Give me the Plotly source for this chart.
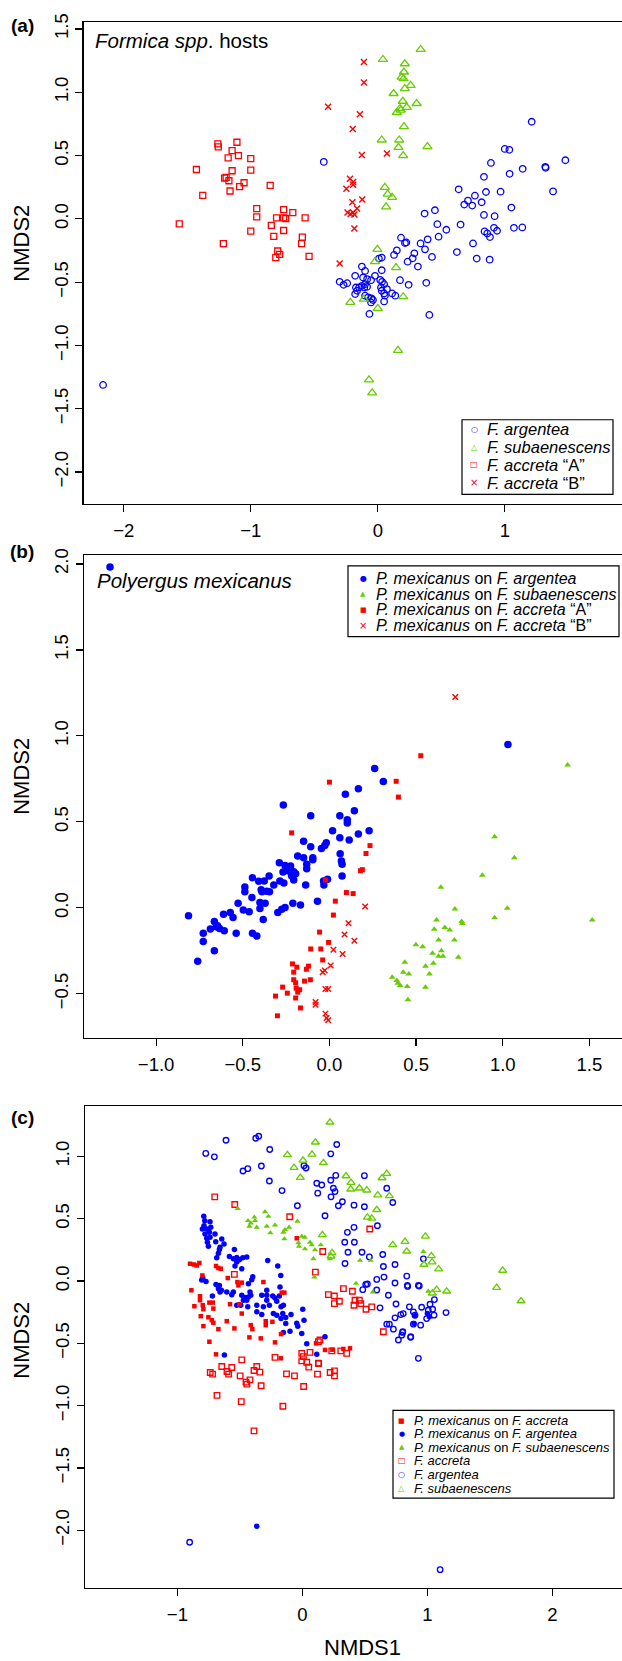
import plotly.graph_objects as go

W, H = 622, 1661
FONT = "Liberation Sans, Arial, Helvetica, sans-serif"
GLYPH_FONT = "DejaVu Sans"
BLUE, RED, GREEN = "#0000FF", "#FF0000", "#66CD00"

# ---------------- Panel (a): Formica spp. hosts ----------------
A_ARGENTEA = [
    (1.212, 0.767), (1.0, 0.552), (1.036, 0.545), (0.891, 0.442), (0.836, 0.332), (1.038, 0.356),
    (1.141, 0.395), (1.319, 0.411), (1.322, 0.403), (1.477, 0.463), (1.380, 0.217), (0.637, 0.233),
    (0.765, 0.183), (0.852, 0.212), (0.967, 0.215), (0.681, 0.113), (0.710, 0.144), (0.744, 0.105),
    (0.818, 0.131), (1.052, 0.089), (0.836, 0.031), (0.920, 0.021), (0.369, 0.042), (0.450, 0.068),
    (0.469, -0.042), (0.540, -0.086), (0.652, -0.045), (0.479, -0.141), (0.393, -0.162), (0.337, -0.194),
    (0.372, -0.241), (0.427, -0.301), (0.288, -0.272), (0.275, -0.312), (0.235, -0.338), (0.316, -0.377),
    (0.623, -0.262), (0.750, -0.194), (0.779, -0.314), (0.881, -0.322), (0.841, -0.099), (0.862, -0.115),
    (0.883, -0.144), (0.915, -0.071), (0.939, -0.094), (1.072, -0.071), (1.138, -0.068), (0.183, -0.149),
    (0.214, -0.191), (0.225, -0.186), (0.243, -0.521), (0.382, -0.505), (0.406, -0.759), (0.175, -0.484),
    (-0.425, 0.450), (0.150, -0.249), (0.128, -0.285), (0.031, -0.306), (0.009, -0.314), (0.031, -0.406),
    (-0.125, -0.377), (-0.100, -0.411), (-0.022, -0.450), (0.019, -0.482), (-0.053, -0.484), (-0.116, -0.463),
    (-0.084, -0.476), (-0.178, -0.450), (-0.300, -0.497), (-0.269, -0.521), (-0.241, -0.508), (-0.172, -0.542),
    (-0.147, -0.542), (-0.125, -0.529), (-0.100, -0.516), (-0.106, -0.542), (-0.084, -0.537), (-0.163, -0.568),
    (-0.178, -0.594), (-0.100, -0.607), (-0.075, -0.620), (-0.050, -0.628), (-0.038, -0.641), (-0.053, -0.660),
    (0.025, -0.542), (0.031, -0.568), (0.050, -0.589), (0.056, -0.607), (0.050, -0.516), (0.034, -0.497),
    (0.072, -0.555), (0.113, -0.589), (0.138, -0.607), (0.050, -0.652), (-0.066, -0.751), (-2.163, -1.312),
]
A_SUBAENESCENS = [
    (0.338, 1.338), (0.041, 1.259), (0.213, 1.225), (0.206, 1.160), (0.188, 1.120), (0.203, 1.107),
    (0.259, 1.055), (0.213, 1.029), (0.125, 0.990), (0.197, 0.929), (0.306, 0.911), (0.175, 0.872),
    (0.228, 0.880), (0.150, 0.840), (0.181, 0.859), (0.206, 0.728), (0.031, 0.623), (0.169, 0.623),
    (0.163, 0.565), (0.391, 0.571), (0.200, 0.500), (0.056, 0.249), (0.078, 0.196), (0.113, 0.170),
    (0.066, 0.095), (-0.003, -0.241), (-0.022, -0.338), (0.144, -0.385), (-0.216, -0.660), (-0.109, -0.634),
    (0.200, -0.615), (0.000, -0.707), (0.159, -1.039), (-0.069, -1.272), (-0.044, -1.374),
]
A_ACCRETA_A = [
    (-1.428, 0.390), (-1.259, 0.592), (-1.256, 0.568), (-1.109, 0.605), (-1.147, 0.539), (-1.097, 0.500),
    (-1.178, 0.482), (-1.000, 0.476), (-1.147, 0.380), (-1.000, 0.385), (-1.206, 0.322), (-1.194, 0.327),
    (-1.172, 0.301), (-1.053, 0.285), (-1.088, 0.254), (-1.163, 0.220), (-0.847, 0.264), (-1.378, 0.186),
    (-0.953, 0.081), (-0.953, 0.016), (-0.741, 0.073), (-0.669, 0.050), (-0.797, 0.008), (-0.741, 0.008),
    (-0.725, 0.003), (-0.572, 0.008), (-1.563, -0.039), (-1.000, -0.097), (-0.838, -0.052), (-0.741, -0.092),
    (-0.819, -0.139), (-0.594, -0.144), (-1.216, -0.196), (-0.600, -0.196), (-0.788, -0.254), (-0.772, -0.280),
    (-0.803, -0.306), (-0.541, -0.296),
]
A_ACCRETA_B = [
    (-0.109, 1.238), (-0.109, 1.076), (-0.391, 0.885), (-0.141, 0.827), (-0.197, 0.709), (-0.125, 0.505),
    (0.072, 0.516), (-0.219, 0.317), (-0.194, 0.291), (-0.194, 0.270), (-0.247, 0.238), (-0.200, 0.131),
    (-0.122, 0.152), (-0.163, 0.081), (-0.238, 0.050), (-0.213, 0.039), (-0.194, 0.050), (-0.184, 0.034),
    (-0.184, -0.076), (-0.300, -0.353),
]

# ---------------- Panel (b): Polyergus mexicanus ----------------
B_ON_ARGENTEA = [
    (-1.266, 1.982), (1.030, 0.950), (0.261, 0.810), (0.311, 0.735), (0.167, 0.692), (0.092, 0.661),
    (-0.266, 0.598), (0.144, 0.565), (-0.108, 0.536), (0.060, 0.536), (0.103, 0.513), (0.103, 0.494),
    (0.018, 0.449), (0.229, 0.449), (0.167, 0.430), (0.060, 0.407), (0.114, 0.395), (-0.149, 0.388),
    (-0.018, 0.378), (-0.027, 0.362), (-0.046, 0.345), (-0.108, 0.355), (0.062, 0.314), (-0.183, 0.301),
    (-0.149, 0.291), (-0.096, 0.291), (-0.096, 0.280), (0.069, 0.272), (0.073, 0.253), (-0.289, 0.262),
    (-0.256, 0.247), (-0.224, 0.243), (-0.131, 0.253), (-0.131, 0.227), (-0.268, 0.208), (-0.236, 0.214),
    (-0.206, 0.210), (-0.218, 0.185), (-0.195, 0.199), (-0.206, 0.162), (0.073, 0.185), (-0.011, 0.166),
    (-0.444, 0.175), (-0.408, 0.154), (-0.376, 0.156), (-0.348, 0.185), (-0.286, 0.156), (-0.263, 0.145),
    (-0.488, 0.121), (-0.394, 0.106), (-0.362, 0.096), (-0.321, 0.133), (-0.389, 0.094), (-0.346, 0.094),
    (-0.137, 0.133), (-0.032, 0.133), (-0.034, 0.156), (-0.488, 0.094), (-0.447, 0.060), (-0.069, 0.039),
    (-0.401, 0.031), (-0.371, 0.027), (-0.527, 0.027), (-0.211, 0.027), (-0.167, 0.017), (-0.497, -0.012),
    (-0.463, -0.023), (-0.401, -0.004), (-0.298, -0.027), (-0.275, -0.008), (-0.256, 0.002), (-0.611, -0.037),
    (-0.572, -0.027), (-0.556, -0.056), (-0.382, -0.067), (-0.813, -0.046), (-0.664, -0.079), (-0.646, -0.104),
    (-0.634, -0.120), (-0.607, -0.133), (-0.687, -0.123), (-0.728, -0.147), (-0.538, -0.147), (-0.444, -0.148),
    (-0.653, -0.110), (-0.728, -0.195), (-0.419, -0.164), (-0.664, -0.249), (-0.760, -0.310),
]
B_ON_SUBAENESCENS = [
    (1.374, 0.831), (0.953, 0.413), (1.067, 0.291), (0.882, 0.189), (0.643, 0.120), (0.724, -0.006),
    (1.026, -0.002), (0.953, -0.058), (1.516, -0.071), (0.618, -0.071), (0.763, -0.079), (0.767, -0.091),
    (0.605, -0.125), (0.666, -0.114), (0.694, -0.129), (0.630, -0.187), (0.721, -0.187), (0.499, -0.214),
    (0.538, -0.226), (0.595, -0.264), (0.646, -0.249), (0.630, -0.281), (0.655, -0.281), (0.744, -0.287),
    (0.435, -0.316), (0.600, -0.322), (0.554, -0.339), (0.426, -0.374), (0.458, -0.384), (0.577, -0.384),
    (0.362, -0.403), (0.389, -0.422), (0.396, -0.438), (0.408, -0.451), (0.449, -0.457), (0.554, -0.461),
    (0.453, -0.534),
]
B_ON_ACCRETA_A = [
    (0.527, 0.885), (0.000, 0.731), (0.385, 0.736), (0.398, 0.644), (-0.218, 0.436), (0.234, 0.362),
    (0.211, 0.316), (0.190, 0.222), (0.179, 0.216), (-0.023, 0.162), (0.098, 0.089), (0.137, 0.083),
    (0.034, 0.039), (0.023, -0.042), (-0.057, -0.141), (-0.005, -0.201), (-0.108, -0.239), (-0.050, -0.239),
    (-0.039, -0.303), (-0.213, -0.326), (-0.188, -0.345), (-0.206, -0.374), (-0.121, -0.339), (-0.133, -0.357),
    (-0.206, -0.418), (-0.195, -0.436), (-0.144, -0.426), (-0.110, -0.418), (-0.270, -0.461), (-0.192, -0.467),
    (-0.172, -0.476), (-0.183, -0.490), (-0.243, -0.496), (-0.311, -0.513), (-0.195, -0.524), (-0.167, -0.582),
    (-0.300, -0.628),
]
B_ON_ACCRETA_B = [
    (0.726, 1.226), (0.206, 0.008), (0.110, -0.090), (0.087, -0.155), (0.144, -0.191), (0.023, -0.243),
    (0.076, -0.268), (0.007, -0.335), (-0.039, -0.374), (-0.027, -0.364), (-0.023, -0.472), (-0.007, -0.472),
    (-0.080, -0.547), (-0.080, -0.563), (-0.023, -0.615), (-0.016, -0.640), (-0.007, -0.654),
]

# ---------------- Panel (c): combined ----------------
C_PM_ACCRETA = [
    (-0.899, 0.138), (-0.867, 0.133), (-0.845, 0.125), (-0.824, 0.144), (-0.800, 0.045), (-0.691, 0.120),
    (-0.672, 0.104), (-0.653, 0.098), (-0.597, 0.024), (-0.520, -0.008), (-0.485, -0.013), (-0.512, -0.035),
    (-0.312, -0.008), (-0.888, -0.074), (-0.819, -0.122), (-0.819, -0.154), (-0.864, -0.202), (-0.797, -0.194),
    (-0.744, -0.173), (-0.717, -0.173), (-0.792, -0.226), (-0.712, -0.221), (-0.579, -0.186), (-0.504, -0.186),
    (-0.485, -0.261), (-0.813, -0.282), (-0.752, -0.290), (-0.725, -0.314), (-0.712, -0.335), (-0.605, -0.322),
    (-0.792, -0.362), (-0.672, -0.386), (-0.544, -0.380), (-0.413, -0.354), (-0.400, -0.386), (-0.333, -0.460),
    (-0.424, -0.452), (-0.744, -0.487), (-0.293, -0.322), (-0.293, -0.354), (-0.240, -0.327), (-0.219, -0.492),
    (-0.171, -0.426), (-0.144, -0.093), (-0.165, -0.093), (-0.045, 0.343), (0.109, -0.500), (0.181, -0.553),
    (0.240, -0.551), (0.328, -0.545), (0.381, -0.540), (-0.691, -0.588), (-0.173, -0.620),
]
C_PM_ARGENTEA = [
    (-0.789, 0.521), (-0.781, 0.484), (-0.739, 0.476), (-0.787, 0.444), (-0.800, 0.418), (-0.765, 0.418),
    (-0.733, 0.431), (-0.779, 0.378), (-0.744, 0.391), (-0.699, 0.378), (-0.765, 0.343), (-0.739, 0.351),
    (-0.760, 0.311), (-0.752, 0.279), (-0.693, 0.316), (-0.645, 0.338), (-0.627, 0.298), (-0.659, 0.271),
    (-0.664, 0.253), (-0.672, 0.223), (-0.685, 0.186), (-0.584, 0.197), (-0.544, 0.253), (-0.552, 0.178),
    (-0.525, 0.189), (-0.504, 0.170), (-0.477, 0.186), (-0.445, 0.194), (-0.539, 0.120), (-0.525, 0.152),
    (-0.485, 0.098), (-0.277, 0.165), (-0.197, 0.120), (-0.173, 0.045), (-0.797, 0.024), (-0.771, -0.003),
    (-0.805, 0.008), (-0.691, -0.027), (-0.664, -0.035), (-0.648, -0.074), (-0.672, -0.061), (-0.659, -0.088),
    (-0.720, -0.120), (-0.565, -0.109), (-0.552, -0.088), (-0.525, -0.194), (-0.485, -0.114), (-0.459, -0.133),
    (-0.472, -0.154), (-0.445, -0.154), (-0.432, -0.128), (-0.419, -0.088), (-0.413, -0.114), (-0.437, -0.207),
    (-0.432, -0.021), (-0.405, 0.011), (-0.397, 0.035), (-0.493, -0.194), (-0.365, -0.194), (-0.325, -0.114),
    (-0.285, -0.074), (-0.285, -0.114), (-0.285, -0.154), (-0.365, -0.247), (-0.325, -0.269), (-0.312, -0.207),
    (-0.264, -0.194), (-0.237, -0.120), (-0.219, -0.136), (-0.205, -0.162), (-0.184, -0.120), (-0.179, -0.048),
    (-0.171, -0.207), (-0.232, -0.261), (-0.205, -0.274), (-0.152, -0.194), (-0.157, -0.261), (-0.171, -0.301),
    (-0.133, -0.293), (-0.133, -0.340), (-0.152, -0.412), (-0.091, -0.269), (-0.045, -0.338), (-0.037, -0.362),
    (-0.005, -0.420), (0.013, -0.314), (0.003, -0.226), (-0.099, -0.402), (0.035, -0.503), (0.115, -0.588),
    (0.181, -0.447), (-0.624, -0.593), (-0.605, -0.088), (-0.365, -1.968), (0.901, -0.279), (0.893, -0.340),
    (1.000, -0.261), (1.016, -0.287),
]
C_PM_SUBAENESCENS = [
    (-0.517, 0.582), (-0.299, 0.556), (-0.272, 0.519), (-0.384, 0.513), (-0.435, 0.484), (-0.413, 0.465),
    (-0.379, 0.484), (-0.424, 0.439), (-0.365, 0.431), (-0.285, 0.439), (-0.219, 0.449), (-0.256, 0.386),
    (-0.139, 0.412), (-0.152, 0.391), (-0.107, 0.431), (-0.040, 0.479), (-0.144, 0.338), (-0.005, 0.359),
    (0.019, 0.351), (-0.032, 0.306), (0.061, 0.311), (-0.027, 0.279), (0.021, 0.258), (0.075, 0.290),
    (0.101, 0.250), (0.147, 0.290), (0.088, 0.178), (0.221, 0.178), (0.096, 0.032), (0.461, 0.165),
    (0.547, 0.165), (0.429, -0.019), (0.563, -0.088), (0.968, 0.237), (1.007, -0.082),
]
C_F_ACCRETA = [
    (-0.701, 0.676), (-0.541, 0.614), (-0.101, 0.516), (0.539, 0.418), (0.163, 0.237), (0.104, 0.072),
    (-0.544, 0.053), (0.208, -0.109), (0.256, -0.120), (0.256, -0.181), (0.296, -0.162), (0.328, -0.061),
    (0.400, -0.082), (0.421, -0.154), (0.413, -0.194), (0.456, -0.154), (0.467, -0.181), (0.509, -0.226),
    (0.555, -0.207), (0.648, -0.407), (0.141, -0.473), (0.128, -0.487), (-0.005, -0.580), (0.061, -0.572),
    (0.008, -0.606), (-0.005, -0.641), (0.035, -0.652), (0.128, -0.660), (0.235, -0.561), (0.307, -0.561),
    (0.355, -0.580), (-0.485, -0.633), (-0.219, -0.612), (-0.365, -0.686), (-0.645, -0.686), (-0.565, -0.694),
    (-0.737, -0.734), (-0.718, -0.747), (-0.603, -0.726), (-0.590, -0.747), (-0.498, -0.761), (-0.451, -0.811),
    (-0.444, -0.827), (-0.419, -0.793), (-0.387, -0.718), (-0.340, -0.731), (-0.330, -0.840), (-0.683, -0.918),
    (-0.489, -0.968), (-0.387, -1.202), (-0.156, -1.005), (-0.127, -0.745), (-0.063, -0.761), (0.010, -0.846),
    (0.051, -0.691), (0.121, -0.747), (0.130, -0.662), (0.222, -0.734), (0.257, -0.721), (0.257, -0.761),
]
C_F_ARGENTEA = [
    (-0.773, 1.024), (-0.704, 0.997), (-0.611, 1.130), (-0.373, 1.146), (-0.349, 1.162), (-0.261, 1.056),
    (-0.475, 0.883), (-0.437, 0.902), (-0.328, 0.923), (-0.264, 0.803), (-0.163, 0.726), (-0.040, 0.604),
    (0.181, 0.524), (0.013, 0.926), (0.029, 0.907), (0.227, 1.021), (0.275, 1.096), (0.115, 0.785),
    (0.155, 0.771), (0.123, 0.705), (0.227, 0.809), (0.267, 0.848), (0.248, 0.745), (0.261, 0.718),
    (0.229, 0.676), (0.288, 0.604), (0.320, 0.636), (0.413, 0.609), (0.496, 0.596), (0.496, 0.846),
    (0.675, 0.745), (0.723, 0.630), (0.600, 0.444), (0.360, 0.391), (0.413, 0.431), (0.339, 0.311),
    (0.416, 0.311), (0.365, 0.231), (0.477, 0.231), (0.536, 0.194), (0.341, 0.141), (0.643, 0.213),
    (0.648, 0.117), (0.741, 0.133), (0.835, 0.040), (0.653, 0.032), (0.595, 0.013), (0.507, -0.027),
    (0.520, -0.024), (0.483, -0.069), (0.595, -0.072), (0.741, -0.016), (0.840, -0.035), (0.928, -0.035),
    (0.688, -0.114), (0.621, -0.215), (0.749, -0.184), (0.787, -0.269), (0.741, -0.295), (0.675, -0.346),
    (0.696, -0.346), (0.728, -0.386), (0.803, -0.407), (0.795, -0.434), (0.768, -0.473), (0.867, -0.447),
    (0.928, -0.620), (0.968, 0.178), (0.842, -0.043), (0.935, -0.040), (1.056, -0.149), (0.954, -0.210),
    (1.021, -0.186), (0.856, -0.207), (0.807, -0.261), (0.888, -0.247), (1.007, -0.234), (1.042, -0.226),
    (1.053, -0.274), (1.149, -0.253), (0.994, -0.301), (0.901, -0.274), (0.888, -0.346), (0.946, -0.354),
    (0.802, -0.412), (0.866, -0.452), (-0.902, -2.096), (1.102, -2.316),
]
C_F_SUBAENESCENS = [
    (0.221, 1.274), (0.104, 1.114), (-0.120, 1.013), (0.077, 1.016), (0.005, 0.968), (0.168, 0.949),
    (-0.067, 0.910), (-0.016, 0.830), (0.349, 0.843), (0.389, 0.790), (0.387, 0.737), (0.456, 0.745),
    (0.515, 0.729), (0.603, 0.689), (0.637, 0.827), (0.675, 0.862), (0.696, 0.684), (0.595, 0.572),
    (0.520, 0.511), (0.555, 0.503), (0.160, 0.370), (0.237, 0.226), (0.229, 0.199), (0.723, 0.290),
    (0.821, 0.316), (0.835, 0.239), (0.984, 0.359), (1.032, 0.202), (1.037, 0.152), (0.973, 0.133),
    (1.090, 0.096), (1.602, 0.085), (1.554, -0.053), (1.749, -0.160), (1.074, -0.069), (1.154, -0.082),
    (1.040, -0.098),
]

# Tick values
A_XTICKS = [-2, -1, 0, 1, 2]
A_YTICKS = [-2.0, -1.5, -1.0, -0.5, 0.0, 0.5, 1.0, 1.5]
B_XTICKS = [-1.0, -0.5, 0.0, 0.5, 1.0, 1.5]
B_YTICKS = [-0.5, 0.0, 0.5, 1.0, 1.5, 2.0]
C_XTICKS = [-1, 0, 1, 2]
C_YTICKS = [-2.0, -1.5, -1.0, -0.5, 0.0, 0.5, 1.0]


def fmt_int(v):
    return f"{v:d}".replace("-", "\u2212")


def fmt_1(v):
    return f"{v:.1f}".replace("-", "\u2212")


fig = go.Figure()


def add(pairs, ax, symbol, size, color, lw=0.0):
    xs = [p[0] for p in pairs]
    ys = [p[1] for p in pairs]
    sfx = "" if ax == 1 else str(ax)
    fig.add_trace(go.Scatter(
        x=xs, y=ys, mode="markers", xaxis="x" + sfx, yaxis="y" + sfx,
        marker=dict(symbol=symbol, size=size, color=color,
                    line=dict(width=lw, color=color)),
        showlegend=False, hoverinfo="skip"))


# panel a
add(A_ARGENTEA, 1, "circle-open", 6.5, BLUE, 1.3)
add(A_SUBAENESCENS, 1, "triangle-up-open", 8, GREEN, 1.3)
add(A_ACCRETA_A, 1, "square-open", 6, RED, 1.3)
add(A_ACCRETA_B, 1, "x-thin-open", 6, RED, 1.4)
# panel b
add(B_ON_ARGENTEA, 2, "circle", 7.5, BLUE)
add(B_ON_SUBAENESCENS, 2, "triangle-up", 6, GREEN)
add(B_ON_ACCRETA_A, 2, "square", 5, RED)
add(B_ON_ACCRETA_B, 2, "x-thin-open", 5.5, RED, 1.4)
# panel c
add(C_F_ARGENTEA, 3, "circle-open", 5.5, BLUE, 1.35)
add(C_F_SUBAENESCENS, 3, "triangle-up-open", 7, GREEN, 1.35)
add(C_F_ACCRETA, 3, "square-open", 5.5, RED, 1.35)
add(C_PM_ARGENTEA, 3, "circle", 5.5, BLUE)
add(C_PM_SUBAENESCENS, 3, "triangle-up", 5.5, GREEN)
add(C_PM_ACCRETA, 3, "square", 4.5, RED)


def px(x):
    return x / W


def py(y):
    return 1 - y / H


AXFONT = dict(family=FONT, size=18.5, color="black")
COMMON = dict(showgrid=False, zeroline=False, showline=True, linecolor="black", linewidth=1.2,
              ticks="outside", ticklen=7, tickwidth=1.2, tickcolor="black", tickfont=AXFONT)


def xaxis(left, rng, ticks, f, anchor):
    return dict(COMMON, domain=[px(left), 1.0], range=rng, tickvals=ticks,
                ticktext=[f(v) for v in ticks], anchor=anchor, mirror=True, ticklabelstandoff=3)


def yaxis(top, bottom, rng, ticks, anchor):
    return dict(COMMON, domain=[py(bottom), py(top)], range=rng, tickvals=ticks,
                ticktext=[fmt_1(v) for v in ticks], anchor=anchor, mirror=False, tickangle=-90)


fig.update_layout(
    width=W, height=H, autosize=False,
    margin=dict(l=0, r=0, t=0, b=0),
    paper_bgcolor="white", plot_bgcolor="white",
    xaxis=xaxis(83.5, [-2.317, 1.923], A_XTICKS, fmt_int, "y"),
    yaxis=yaxis(13.3, 497.3, [-2.249, 1.553], A_YTICKS, "x"),
    xaxis2=xaxis(84, [-1.416, 1.688], B_XTICKS, fmt_1, "y2"),
    yaxis2=yaxis(549.3, 1034.3, [-0.755, 2.050], B_YTICKS, "x2"),
    xaxis3=xaxis(85, [-1.739, 2.557], C_XTICKS, fmt_int, "y3"),
    yaxis3=yaxis(1102.7, 1587.3, [-2.461, 1.407], C_YTICKS, "x3"),
)

ann = []


def text(x, y, s, size, xanchor="left", angle=0, family=FONT, color="black"):
    ann.append(dict(x=px(x), y=py(y), xref="paper", yref="paper", text=s, showarrow=False,
                    xanchor=xanchor, yanchor="middle", textangle=angle,
                    font=dict(family=family, size=size, color=color)))


# panel letters
for lab, yy in (("(a)", 16.5), ("(b)", 545), ("(c)", 1115)):
    text(22, yy, "<b>" + lab + "</b>", 19, xanchor="center")
# panel titles
text(93, 32, "<i>Formica spp</i>. hosts", 20.5)
text(95, 575, "<i>Polyergus mexicanus</i>", 20.5)
# axis titles
for yy in (236, 772, 1339):
    text(22, yy, "NMDS2", 22, xanchor="center", angle=-90)
text(362, 1647, "NMDS1", 22, xanchor="center")

shapes = []


def legend(box, gx, tx, ys, entries, fsize):
    x0, y0, x1, y1 = box
    shapes.append(dict(type="rect", xref="paper", yref="paper", x0=px(x0), x1=px(x1),
                       y0=py(y1), y1=py(y0), line=dict(color="black", width=1.2),
                       fillcolor="white", layer="above"))
    for yy, (glyph, gsize, col, label) in zip(ys, entries):
        text(gx, yy, glyph, gsize, xanchor="center", family=GLYPH_FONT, color=col)
        text(tx, yy, label, fsize)


legend((462, 413, 613, 488), 474, 485, [422.7, 440.5, 458.3, 476.5], [
    ("\u25CB", 8, BLUE, "<i>F. argentea</i>"),
    ("\u25B3", 8, GREEN, "<i>F. subaenescens</i>"),
    ("\u25A1", 8, RED, "<i>F. accreta</i> \u201CA\u201D"),
    ("\u00D7", 10, RED, "<i>F. accreta</i> \u201CB\u201D"),
], 16.5)

legend((348, 560, 619, 631), 363, 374, [572.7, 588.3, 604.0, 619.8], [
    ("\u25CF", 8, BLUE, "<i>P. mexicanus</i> on <i>F. argentea</i>"),
    ("\u25B2", 7, GREEN, "<i>P. mexicanus</i> on <i>F. subaenescens</i>"),
    ("\u25A0", 7, RED, "<i>P. mexicanus</i> on <i>F. accreta</i> \u201CA\u201D"),
    ("\u00D7", 10, RED, "<i>P. mexicanus</i> on <i>F. accreta</i> \u201CB\u201D"),
], 16)

legend((393, 1409, 614, 1497.3), 401.6, 412, [1419.3, 1432.7, 1446.0, 1459.5, 1473.5, 1487.3], [
    ("\u25A0", 7, RED, "<i>P. mexicanus</i> on <i>F. accreta</i>"),
    ("\u25CF", 7, BLUE, "<i>P. mexicanus</i> on <i>F. argentea</i>"),
    ("\u25B2", 7, GREEN, "<i>P. mexicanus</i> on <i>F. subaenescens</i>"),
    ("\u25A1", 8, RED, "<i>F. accreta</i>"),
    ("\u25CB", 8, BLUE, "<i>F. argentea</i>"),
    ("\u25B3", 8, GREEN, "<i>F. subaenescens</i>"),
], 13)

fig.update_layout(annotations=ann, shapes=shapes)
fig.write_html(
    "out.html",
    config=dict(displayModeBar=False, staticPlot=True),
    post_script="document.body.style.margin='0px';"
                "document.documentElement.style.overflow='hidden';"
                "document.body.style.overflow='hidden';",
)
